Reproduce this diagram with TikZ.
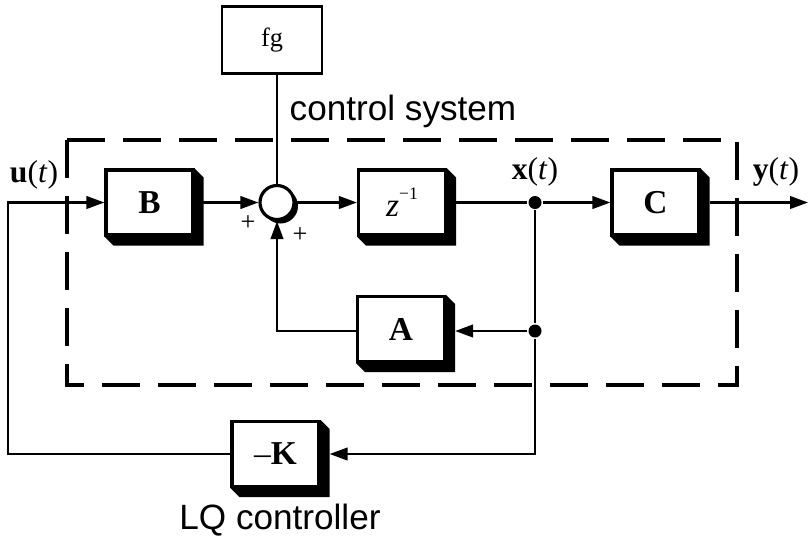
\documentclass[tikz,border=0pt]{standalone}
\usepackage{fontspec}
\setmainfont{Liberation Serif}
\setsansfont{Liberation Sans}
\usetikzlibrary{arrows.meta}
\makeatletter
\newcommand\blkfont{\@setfontsize\blkfont{19pt}{22pt}}
\newcommand\lblfont{\@setfontsize\lblfont{18pt}{21pt}}
\newcommand\capfont{\@setfontsize\capfont{20pt}{24pt}}
\newcommand\fgfont{\@setfontsize\fgfont{15pt}{18pt}}
\newcommand\supfont{\@setfontsize\supfont{10pt}{12pt}}
\makeatother

\begin{document}
\begin{tikzpicture}[>={Triangle[length=3.6mm,width=2.5mm]}, line width=1.4pt,
  blk/.style={draw, fill=white, line width=1.8pt, minimum width=1.74cm, minimum height=1.3cm, font=\blkfont\bfseries},
  dot/.style={circle, fill, inner sep=0pt, minimum size=0.26cm},
  every node/.style={font=\lblfont}]
  \useasboundingbox (0,0) rectangle (16.2,-10.82);
  % dashed frame of the plant
  \draw[line width=2pt, dash pattern=on 0.76cm off 0.36cm] (1.34,-2.8) rectangle (14.74,-7.7);
  \node[font=\capfont\sffamily] (sys) at (8.06,-2.22) {control system};

  \node[draw, line width=1.2pt, minimum width=2cm, minimum height=1.34cm, font=\fgfont] (fg) at (5.44,-0.80) {fg};
  \node[blk] (B) at (2.99,-4.05) {B};
  \fill (5.61,-4.12) circle (0.35);
  \node[draw, circle, fill=white, line width=1.8pt, minimum size=0.68cm, inner sep=0pt] (sum) at (5.54,-4.05) {};
  \node[blk, font=\blkfont] (z) at (8.04,-4.05) {\textit{z}\raisebox{1.1ex}{\supfont−1}};
  \node[dot] (x1) at (10.7,-4.05) {};
  \node[blk] (C) at (13.11,-4.05) {C};
  \coordinate (yout) at (16.16,-4.05);
  \node[blk] (A) at (8.02,-6.58) {A};
  \node[dot] (x2) at (10.7,-6.62) {};
  \node[blk] (K) at (5.51,-9.08) {{\mdseries –}K};
  \coordinate (lft) at (0.16,-4.05);
  % shadows
  \foreach \n in {B,z,C,A,K}
    \fill (\n.north east) -- ++(0.18,-0.18) |- ([shift={(0.18,-0.18)}]\n.south west) -- (\n.south west) -- (\n.south east) -- cycle;

  \node (u) at (0.68,-3.5) {\textbf{u}(\textit{t})};
  \node (x) at (10.7,-3.44) {\textbf{x}(\textit{t})};
  \node (y) at (15.52,-3.44) {\textbf{y}(\textit{t})};
  \node[font=\fgfont] (p1) at (4.96,-4.46) {+};
  \node[font=\fgfont] (p2) at (6.0,-4.7) {+};
  \node[font=\capfont\sffamily] (lq) at (5.6,-10.4) {LQ controller};

  \draw (sum.north) -- (sum.north |- fg.south);
  \draw[->] (K.west) -- (K.west -| lft) |- (B.west);
  \draw[->] (B) -- (sum);
  \draw[->] (sum) -- (z);
  \draw[->] (z) -- (x1) -- (C);
  \draw[->] (C.east) ++(0.18,0) -- (yout);
  \draw[->] (x1) -- (x2) |- ([xshift=0.18cm]K.east);
  \draw[->] (x2) -- ([xshift=0.18cm]A.east |- x2);
  \draw[->] (A.west |- x2) -| (sum.south);
\end{tikzpicture}
\end{document}
